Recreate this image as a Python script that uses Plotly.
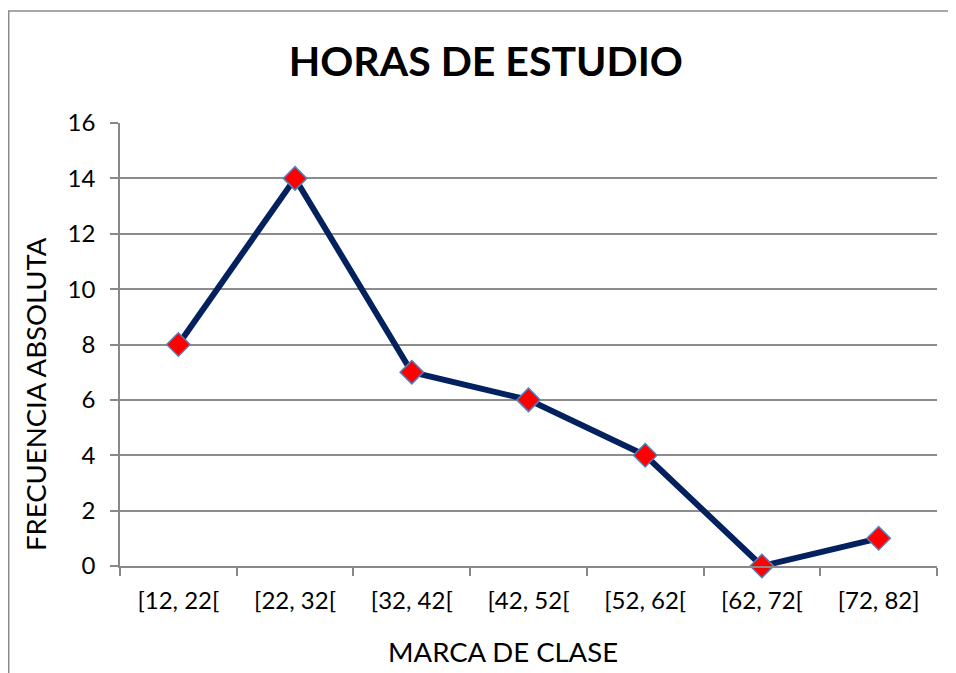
import plotly.graph_objects as go

categories = ["[12, 22[", "[22, 32[", "[32, 42[", "[42, 52[", "[52, 62[", "[62, 72[", "[72, 82]"]
frecuencia = [8, 14, 7, 6, 4, 0, 1]
y_ticks = [0, 2, 4, 6, 8, 10, 12, 14, 16]

FONT = "Lato"
W, H = 948, 665
PW, PH = 817, 443

fig = go.Figure()
fig.add_trace(go.Scatter(
    x=categories, y=frecuencia, mode="lines+markers",
    line=dict(color="#03215F", width=6),
    marker=dict(symbol="diamond", size=18, color="#FF0000",
                line=dict(color="#4F81BD", width=1.5)),
    cliponaxis=False, showlegend=False,
))

fig.update_layout(
    width=W, height=H,
    margin=dict(l=112, r=19, t=115, b=107),
    paper_bgcolor="white", plot_bgcolor="white",
    font=dict(family=FONT, color="black"),
    title=dict(text="<b>HORAS DE ESTUDIO</b>", x=0.504, xanchor="center",
               y=1 - 54 / H, yanchor="middle", font=dict(size=41, family=FONT, color="black")),
    xaxis=dict(
        type="category", tickson="boundaries", ticks="outside", ticklen=8,
        tickcolor="#888888", tickwidth=1.5, showline=True, linecolor="#888888", linewidth=1.5,
        showgrid=False, tickfont=dict(size=24, family=FONT), ticklabelstandoff=12,
        range=[-0.5, 6.5], fixedrange=True,
    ),
    yaxis=dict(
        range=[0, 16], tickvals=y_ticks, ticks="outside", ticklen=8,
        tickcolor="#888888", tickwidth=1.5, showline=True, linecolor="#888888", linewidth=1.5,
        showgrid=True, gridcolor="#8C8C8C", gridwidth=1.5, zeroline=False,
        tickfont=dict(size=24, family=FONT), ticklabelstandoff=10,
    ),
    annotations=[
        dict(text="MARCA DE CLASE", xref="paper", yref="paper",
             x=(495 - 112) / PW, y=(558 - 643) / PH, xanchor="center", yanchor="middle",
             showarrow=False, font=dict(size=27.5, family=FONT, color="black")),
        dict(text="FRECUENCIA ABSOLUTA", xref="paper", yref="paper", textangle=-90,
             x=(27 - 112) / PW, y=(558 - 386) / PH, xanchor="center", yanchor="middle",
             showarrow=False, font=dict(size=27.5, family=FONT, color="black")),
    ],
    shapes=[dict(type="rect", xref="paper", yref="paper",
                 x0=(0.75 - 112) / PW, x1=1.2, y0=-0.4, y1=1 + (115 - 3) / PH,
                 line=dict(color="#8C8C8C", width=1.5), fillcolor="rgba(0,0,0,0)", layer="below")],
)

fig.write_html("out.html")
